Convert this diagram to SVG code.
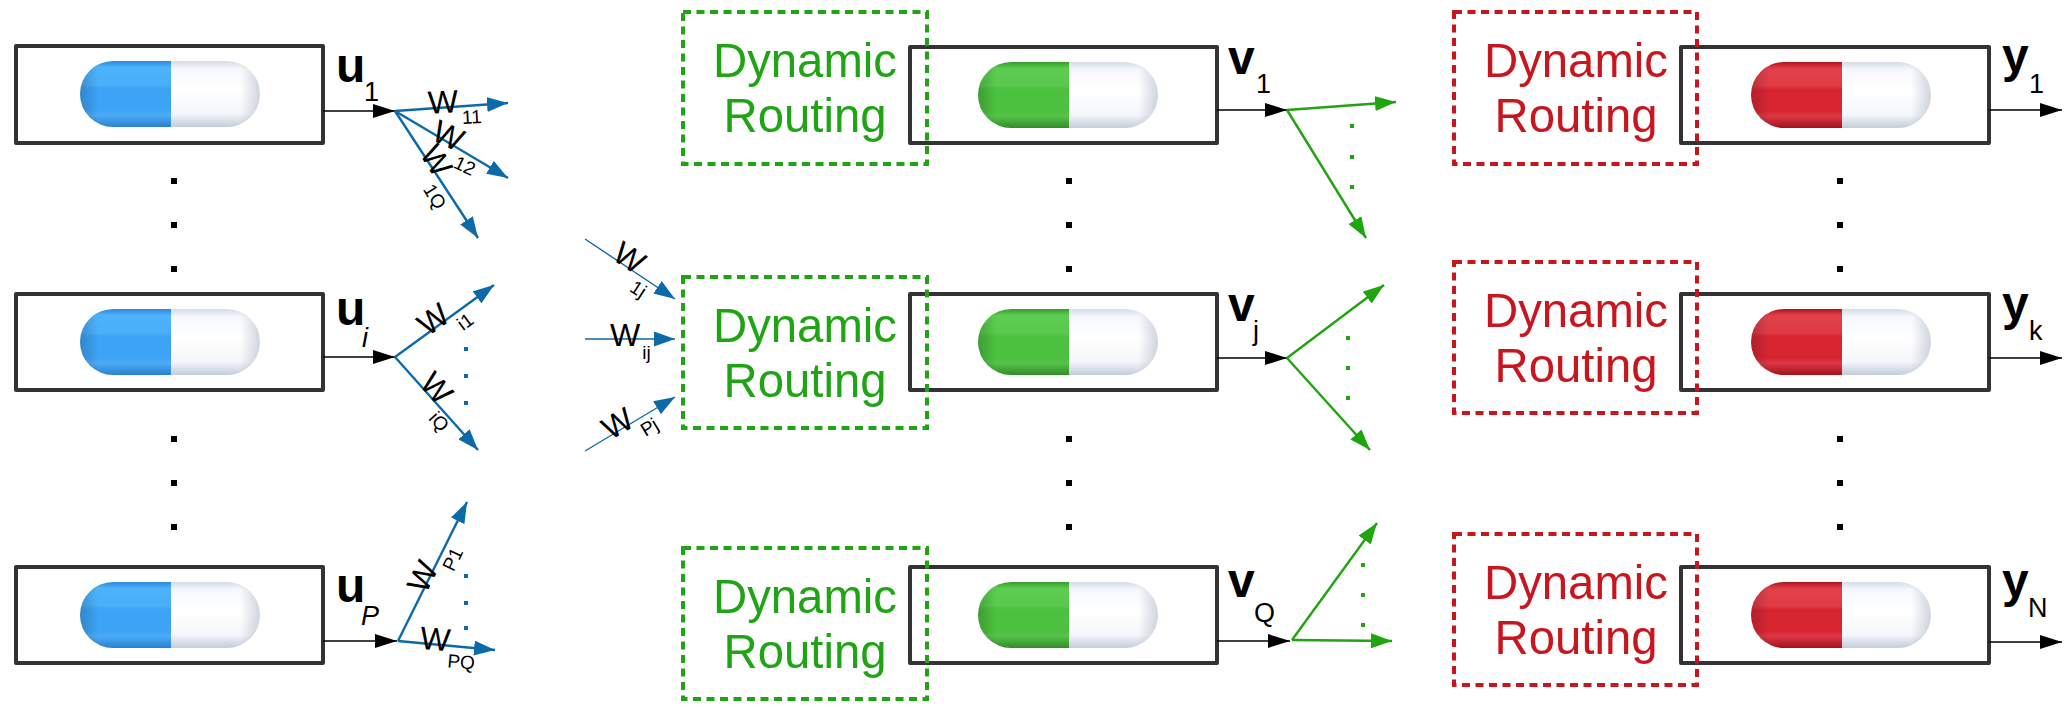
<svg xmlns="http://www.w3.org/2000/svg" width="2066" height="705" viewBox="0 0 2066 705">
  <style>
    .box { fill: none; stroke: #333333; stroke-width: 4; stroke-linejoin: round; }
    .dr-g { fill: none; stroke: #1fa514; stroke-width: 4; stroke-dasharray: 8 5.5; }
    .dr-r { fill: none; stroke: #c8161f; stroke-width: 4; stroke-dasharray: 8 5.5; }
    .dr-gt { font-family: "Liberation Sans", Arial, sans-serif; font-size: 49px; fill: #1fa514; text-anchor: middle; }
    .dr-rt { font-family: "Liberation Sans", Arial, sans-serif; font-size: 49px; fill: #c8161f; text-anchor: middle; }
    .vec { font-family: "Liberation Sans", Arial, sans-serif; font-size: 48px; font-weight: bold; fill: #000; }
    .sub { font-family: "Liberation Sans", Arial, sans-serif; font-size: 27px; font-weight: normal; fill: #000; }
    .w { font-family: "Liberation Sans", Arial, sans-serif; font-size: 32px; fill: #000; }
    .ws { font-size: 19px; }
    .out { stroke: #000; stroke-width: 1.5; fill: none; marker-end: url(#ah-black); }
    .bl { stroke: #0d6aa8; stroke-width: 2.4; fill: none; marker-end: url(#ah-blue); }
    .bl-thin { stroke: #0d6aa8; stroke-width: 1.4; fill: none; marker-end: url(#ah-blue); }
    .gr { stroke: #1fa50f; stroke-width: 2.4; fill: none; marker-end: url(#ah-green); }
    .dot { fill: #000; }
    .bdot { fill: #0d6aa8; }
    .gdot { fill: #1fa50f; }
  </style>
  <defs>
    <marker id="ah-black" markerUnits="userSpaceOnUse" viewBox="0 0 22 14" refX="22" refY="7" markerWidth="22" markerHeight="14" orient="auto">
      <path d="M0,0 L22,7 L0,14 Z" fill="#000"/>
    </marker>
    <marker id="ah-blue" markerUnits="userSpaceOnUse" viewBox="0 0 21 15" refX="21" refY="7.5" markerWidth="21" markerHeight="15" orient="auto">
      <path d="M0,0 L21,7.5 L0,15 Z" fill="#0d6aa8"/>
    </marker>
    <marker id="ah-green" markerUnits="userSpaceOnUse" viewBox="0 0 21 15" refX="21" refY="7.5" markerWidth="21" markerHeight="15" orient="auto">
      <path d="M0,0 L21,7.5 L0,15 Z" fill="#1fa50f"/>
    </marker>

    <!-- capsule halves, 180 x 66 -->
    <path id="capL" d="M33,0 H91 V66 H33 A33,33 0 0 1 33,0 Z"/>
    <path id="capR" d="M91,0 H147 A33,33 0 0 1 147,66 H91 Z"/>

    <linearGradient id="gBlue" x1="0" y1="0" x2="0" y2="1">
      <stop offset="0" stop-color="#2c8ade"/>
      <stop offset="0.1" stop-color="#4db3fc"/>
      <stop offset="0.36" stop-color="#4aaefa"/>
      <stop offset="0.42" stop-color="#3ca3f5"/>
      <stop offset="0.74" stop-color="#3ca3f5"/>
      <stop offset="0.82" stop-color="#4cabf6"/>
      <stop offset="1" stop-color="#2a80d0"/>
    </linearGradient>
    <linearGradient id="gGreen" x1="0" y1="0" x2="0" y2="1">
      <stop offset="0" stop-color="#359c2c"/>
      <stop offset="0.1" stop-color="#5ccd50"/>
      <stop offset="0.36" stop-color="#58c94c"/>
      <stop offset="0.42" stop-color="#4cc03f"/>
      <stop offset="0.74" stop-color="#4cc03f"/>
      <stop offset="0.82" stop-color="#55c448"/>
      <stop offset="1" stop-color="#328c2a"/>
    </linearGradient>
    <linearGradient id="gRed" x1="0" y1="0" x2="0" y2="1">
      <stop offset="0" stop-color="#b0131d"/>
      <stop offset="0.1" stop-color="#e2414b"/>
      <stop offset="0.36" stop-color="#df3b45"/>
      <stop offset="0.42" stop-color="#d82532"/>
      <stop offset="0.74" stop-color="#d82532"/>
      <stop offset="0.82" stop-color="#dc3944"/>
      <stop offset="1" stop-color="#a3121b"/>
    </linearGradient>
    <linearGradient id="gWhite" x1="0" y1="0" x2="0" y2="1">
      <stop offset="0" stop-color="#d4dce8"/>
      <stop offset="0.12" stop-color="#f6f8fc"/>
      <stop offset="0.45" stop-color="#ffffff"/>
      <stop offset="0.8" stop-color="#f3f6fa"/>
      <stop offset="1" stop-color="#c3ccda"/>
    </linearGradient>
    <linearGradient id="shadeL" x1="0" y1="0" x2="1" y2="0">
      <stop offset="0" stop-color="#000" stop-opacity="0.18"/>
      <stop offset="0.2" stop-color="#000" stop-opacity="0"/>
    </linearGradient>
    <linearGradient id="shadeR" x1="0" y1="0" x2="1" y2="0">
      <stop offset="0.78" stop-color="#8a96aa" stop-opacity="0"/>
      <stop offset="1" stop-color="#8a96aa" stop-opacity="0.4"/>
    </linearGradient>

    <g id="pillBlue">
      <use href="#capL" fill="url(#gBlue)"/>
      <use href="#capL" fill="url(#shadeL)"/>
      <use href="#capR" fill="url(#gWhite)"/>
      <use href="#capR" fill="url(#shadeR)"/>
    </g>
    <g id="pillGreen">
      <use href="#capL" fill="url(#gGreen)"/>
      <use href="#capL" fill="url(#shadeL)"/>
      <use href="#capR" fill="url(#gWhite)"/>
      <use href="#capR" fill="url(#shadeR)"/>
    </g>
    <g id="pillRed">
      <use href="#capL" fill="url(#gRed)"/>
      <use href="#capL" fill="url(#shadeL)"/>
      <use href="#capR" fill="url(#gWhite)"/>
      <use href="#capR" fill="url(#shadeR)"/>
    </g>
  </defs>

  <rect width="2066" height="705" fill="#ffffff"/>

  <!-- primary capsules u -->
  <g id="u1">
    <rect class="box" x="16" y="46" width="307" height="97"/>
    <use href="#pillBlue" transform="translate(80,61)"/>
    <text class="vec" x="336" y="82">u<tspan class="sub" x="364" y="101">1</tspan></text>
  </g>
  <g id="ui">
    <rect class="box" x="16" y="294" width="307" height="96"/>
    <use href="#pillBlue" transform="translate(80,309)"/>
    <text class="vec" x="336" y="325">u<tspan class="sub" x="362" y="347" font-style="italic">i</tspan></text>
  </g>
  <g id="uP">
    <rect class="box" x="16" y="567" width="307" height="96"/>
    <use href="#pillBlue" transform="translate(80,582)"/>
    <text class="vec" x="336" y="602">u<tspan class="sub" x="361" y="625" font-style="italic">P</tspan></text>
  </g>

  <!-- routing blocks, middle layer -->
  <g id="v1">
    <rect class="box" x="910" y="47" width="307" height="96"/>
    <use href="#pillGreen" transform="translate(978,62)"/>
    <text class="vec" x="1228" y="74">v<tspan class="sub" x="1256" y="93">1</tspan></text>
  </g>
  <g id="vj">
    <rect class="box" x="910" y="294" width="307" height="96"/>
    <use href="#pillGreen" transform="translate(978,309)"/>
    <text class="vec" x="1228" y="321">v<tspan class="sub" x="1253" y="340">j</tspan></text>
  </g>
  <g id="vQ">
    <rect class="box" x="910" y="567" width="307" height="96"/>
    <use href="#pillGreen" transform="translate(978,582)"/>
    <text class="vec" x="1228" y="597">v<tspan class="sub" x="1254" y="622">Q</tspan></text>
  </g>
  <g id="route-v1">
    <rect class="dr-g" x="683" y="12" width="244" height="152"/>
    <text class="dr-gt" x="805" y="77" textLength="184" lengthAdjust="spacingAndGlyphs">Dynamic</text>
    <text class="dr-gt" x="805" y="132" textLength="163" lengthAdjust="spacingAndGlyphs">Routing</text>
  </g>
  <g id="route-vj">
    <rect class="dr-g" x="683" y="277" width="244" height="151"/>
    <text class="dr-gt" x="805" y="342" textLength="184" lengthAdjust="spacingAndGlyphs">Dynamic</text>
    <text class="dr-gt" x="805" y="397" textLength="163" lengthAdjust="spacingAndGlyphs">Routing</text>
  </g>
  <g id="route-vQ">
    <rect class="dr-g" x="683" y="548" width="244" height="151"/>
    <text class="dr-gt" x="805" y="613" textLength="184" lengthAdjust="spacingAndGlyphs">Dynamic</text>
    <text class="dr-gt" x="805" y="668" textLength="163" lengthAdjust="spacingAndGlyphs">Routing</text>
  </g>

  <!-- output capsules y -->
  <g id="y1">
    <rect class="box" x="1681" y="47" width="308" height="96"/>
    <use href="#pillRed" transform="translate(1751,62)"/>
    <text class="vec" x="2002" y="72">y<tspan class="sub" x="2029" y="93">1</tspan></text>
  </g>
  <g id="yk">
    <rect class="box" x="1681" y="294" width="308" height="96"/>
    <use href="#pillRed" transform="translate(1751,309)"/>
    <text class="vec" x="2002" y="320">y<tspan class="sub" x="2029" y="340">k</tspan></text>
  </g>
  <g id="yN">
    <rect class="box" x="1681" y="567" width="308" height="96"/>
    <use href="#pillRed" transform="translate(1751,582)"/>
    <text class="vec" x="2002" y="597">y<tspan class="sub" x="2028" y="617">N</tspan></text>
  </g>
  <g id="route-y1">
    <rect class="dr-r" x="1454" y="12" width="243" height="152"/>
    <text class="dr-rt" x="1576" y="77" textLength="184" lengthAdjust="spacingAndGlyphs">Dynamic</text>
    <text class="dr-rt" x="1576" y="132" textLength="163" lengthAdjust="spacingAndGlyphs">Routing</text>
  </g>
  <g id="route-yk">
    <rect class="dr-r" x="1454" y="262" width="243" height="151"/>
    <text class="dr-rt" x="1576" y="327" textLength="184" lengthAdjust="spacingAndGlyphs">Dynamic</text>
    <text class="dr-rt" x="1576" y="382" textLength="163" lengthAdjust="spacingAndGlyphs">Routing</text>
  </g>
  <g id="route-yN">
    <rect class="dr-r" x="1454" y="534" width="243" height="151"/>
    <text class="dr-rt" x="1576" y="599" textLength="184" lengthAdjust="spacingAndGlyphs">Dynamic</text>
    <text class="dr-rt" x="1576" y="654" textLength="163" lengthAdjust="spacingAndGlyphs">Routing</text>
  </g>

  <!-- ellipsis dots between rows -->
  <g id="ellipses">
    <rect class="dot" x="171" y="178" width="6" height="6"/>
    <rect class="dot" x="171" y="222" width="6" height="6"/>
    <rect class="dot" x="171" y="266" width="6" height="6"/>
    <rect class="dot" x="171" y="436" width="6" height="6"/>
    <rect class="dot" x="171" y="480" width="6" height="6"/>
    <rect class="dot" x="171" y="524" width="6" height="6"/>
    <rect class="dot" x="1066" y="178" width="6" height="6"/>
    <rect class="dot" x="1066" y="222" width="6" height="6"/>
    <rect class="dot" x="1066" y="266" width="6" height="6"/>
    <rect class="dot" x="1066" y="436" width="6" height="6"/>
    <rect class="dot" x="1066" y="480" width="6" height="6"/>
    <rect class="dot" x="1066" y="524" width="6" height="6"/>
    <rect class="dot" x="1837" y="178" width="6" height="6"/>
    <rect class="dot" x="1837" y="222" width="6" height="6"/>
    <rect class="dot" x="1837" y="266" width="6" height="6"/>
    <rect class="dot" x="1837" y="436" width="6" height="6"/>
    <rect class="dot" x="1837" y="480" width="6" height="6"/>
    <rect class="dot" x="1837" y="524" width="6" height="6"/>
    <rect class="bdot" x="464" y="347" width="4" height="4"/>
    <rect class="bdot" x="464" y="374" width="4" height="4"/>
    <rect class="bdot" x="464" y="401" width="4" height="4"/>
    <rect class="bdot" x="464" y="574" width="4" height="4"/>
    <rect class="bdot" x="464" y="601" width="4" height="4"/>
    <rect class="bdot" x="464" y="626" width="4" height="4"/>
    <rect class="gdot" x="1350" y="124" width="4" height="4"/>
    <rect class="gdot" x="1350" y="155" width="4" height="4"/>
    <rect class="gdot" x="1350" y="185" width="4" height="4"/>
    <rect class="gdot" x="1346" y="336" width="4" height="4"/>
    <rect class="gdot" x="1346" y="366" width="4" height="4"/>
    <rect class="gdot" x="1346" y="396" width="4" height="4"/>
    <rect class="gdot" x="1361" y="563" width="4" height="4"/>
    <rect class="gdot" x="1361" y="593" width="4" height="4"/>
    <rect class="gdot" x="1361" y="623" width="4" height="4"/>
  </g>

  <!-- connectors -->
  <g id="connectors">
    <line class="out" x1="323" y1="111" x2="395" y2="111"/>
    <line class="out" x1="323" y1="357" x2="395" y2="357"/>
    <line class="out" x1="323" y1="641" x2="397" y2="641"/>
    <line class="out" x1="1217" y1="110" x2="1287" y2="110"/>
    <line class="out" x1="1217" y1="358" x2="1287" y2="358"/>
    <line class="out" x1="1217" y1="641" x2="1290" y2="641"/>
    <line class="out" x1="1989" y1="110" x2="2062" y2="110"/>
    <line class="out" x1="1989" y1="358" x2="2062" y2="358"/>
    <line class="out" x1="1989" y1="642" x2="2062" y2="642"/>

    <line class="bl" x1="395" y1="111" x2="508" y2="103"/>
    <line class="bl" x1="395" y1="111" x2="508" y2="178"/>
    <line class="bl" x1="395" y1="111" x2="478" y2="238"/>
    <line class="bl" x1="395" y1="357" x2="494" y2="285"/>
    <line class="bl" x1="395" y1="357" x2="478" y2="450"/>
    <line class="bl" x1="398" y1="641" x2="467" y2="502"/>
    <line class="bl" x1="398" y1="641" x2="495" y2="650"/>

    <line class="bl-thin" x1="585" y1="239" x2="675" y2="299"/>
    <line class="bl-thin" x1="585" y1="339" x2="675" y2="339"/>
    <line class="bl-thin" x1="585" y1="451" x2="675" y2="397"/>

    <line class="gr" x1="1287" y1="110" x2="1396" y2="102"/>
    <line class="gr" x1="1287" y1="110" x2="1366" y2="238"/>
    <line class="gr" x1="1287" y1="358" x2="1384" y2="285"/>
    <line class="gr" x1="1287" y1="358" x2="1370" y2="450"/>
    <line class="gr" x1="1292" y1="640" x2="1377" y2="523"/>
    <line class="gr" x1="1292" y1="640" x2="1392" y2="641"/>
  </g>

  <!-- weight labels -->
  <g id="weights">
    <text class="w" transform="translate(442,103) rotate(-3)" x="-14" y="10">W<tspan class="ws" dx="3" dy="12">11</tspan></text>
    <text class="w" transform="translate(447,136) rotate(25)" x="-14" y="10">W<tspan class="ws" dx="2" dy="16">12</tspan></text>
    <text class="w" transform="translate(435,160) rotate(58)" x="-14" y="10">W<tspan class="ws" dx="2" dy="16">1Q</tspan></text>
    <text class="w" transform="translate(433,321) rotate(-36)" x="-14" y="10">W<tspan class="ws" dx="2" dy="16">i1</tspan></text>
    <text class="w" transform="translate(435,388) rotate(48)" x="-14" y="10">W<tspan class="ws" dx="2" dy="16">iQ</tspan></text>
    <text class="w" transform="translate(423,578) rotate(-64)" x="-14" y="10">W<tspan class="ws" dx="2" dy="15">P1</tspan></text>
    <text class="w" transform="translate(434,640) rotate(5)" x="-14" y="10">W<tspan class="ws" dx="-1" dy="16">PQ</tspan></text>
    <text class="w" transform="translate(628,258) rotate(33)" x="-14" y="10">W<tspan class="ws" dx="2" dy="17">1j</tspan></text>
    <text class="w" x="610" y="346">W<tspan class="ws" dx="2" dy="13">ij</tspan></text>
    <text class="w" transform="translate(617,425) rotate(-31)" x="-14" y="10">W<tspan class="ws" dx="2" dy="15">Pj</tspan></text>
  </g>
</svg>
